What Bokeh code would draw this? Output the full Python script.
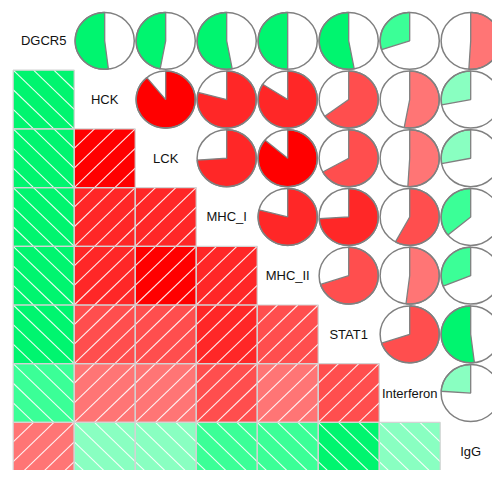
import numpy as np
from bokeh.plotting import figure
from bokeh.models import Range1d
from bokeh.core.properties import value
from bokeh.embed import file_html
from bokeh.resources import INLINE

# ---- data ----
variables = ["DGCR5", "HCK", "LCK", "MHC_I", "MHC_II", "STAT1", "Interferon", "IgG"]

# upper-triangle correlations, row by row (r[i][j] for j > i)
corr_DGCR5 = [-0.52, -0.47, -0.53, -0.50, -0.53, -0.30, 0.51]
corr_HCK = [0.89, 0.79, 0.84, 0.65, 0.53, -0.28]
corr_LCK = [0.74, 0.86, 0.67, 0.51, -0.28]
corr_MHC_I = [0.79, 0.74, 0.58, -0.36]
corr_MHC_II = [0.70, 0.52, -0.31]
corr_STAT1 = [0.70, -0.52]
corr_Interferon = [-0.24]

upper_rows = [corr_DGCR5, corr_HCK, corr_LCK, corr_MHC_I, corr_MHC_II,
              corr_STAT1, corr_Interferon]

n = len(variables)
R = np.eye(n)
for i, row in enumerate(upper_rows):
    for k, v in enumerate(row):
        j = i + 1 + k
        R[i, j] = v
        R[j, i] = v

# ---- palette: 14 colours over [-1, 1] ----
stop_pos = [0.0, 0.25, 0.5, 0.75, 1.0]
stop_rgb = np.array([[0, 128, 0], [0, 255, 120], [255, 255, 255],
                     [255, 127, 127], [255, 0, 0]], float)
ncol = 14
pal = []
for k in range(ncol):
    t = k / (ncol - 1)
    rgb = [np.interp(t, stop_pos, stop_rgb[:, c]) for c in range(3)]
    pal.append("#%02x%02x%02x" % tuple(int(round(v)) for v in rgb))
breaks = np.linspace(-1, 1, ncol + 1)


def color_of(r):
    idx = np.searchsorted(breaks, r, side="left") - 1
    idx = min(max(idx, 0), ncol - 1)
    return pal[idx]


# ---- figure ----
W, H = 492, 470
ux, uy = 61.0, 58.7
x0 = -12.7 / ux
ytop = 8 + 11.0 / uy
p = figure(width=W, height=H, output_backend="svg", toolbar_location=None,
           x_range=Range1d(x0, x0 + W / ux), y_range=Range1d(ytop - H / uy, ytop),
           min_border=0)
p.axis.visible = False
p.grid.visible = False
p.outline_line_color = None
p.background_fill_color = "white"

# lower triangle: shaded squares with hatching
sq_x, sq_y, sq_c = [], [], []
seg_x0, seg_y0, seg_x1, seg_y1 = [], [], [], []
offsets = [-2 / 3, -1 / 3, 0.0, 1 / 3, 2 / 3]
for i in range(n):
    for j in range(i):
        r = R[i, j]
        xl, yb = j, 7 - i
        sq_x.append(xl + 0.5)
        sq_y.append(yb + 0.5)
        sq_c.append(color_of(r))
        for c in offsets:
            if r > 0:  # lines "/" : y = x - c
                if c >= 0:
                    a, b, cc, d = c, 0, 1, 1 - c
                else:
                    a, b, cc, d = 0, -c, 1 + c, 1
            else:  # lines "\" : x + y = 1 + c
                if c >= 0:
                    a, b, cc, d = c, 1, 1, c
                else:
                    a, b, cc, d = 0, 1 + c, 1 + c, 0
            seg_x0.append(xl + a)
            seg_y0.append(yb + b)
            seg_x1.append(xl + cc)
            seg_y1.append(yb + d)

p.rect(x=sq_x, y=sq_y, width=1, height=1, fill_color=sq_c,
       line_color=None)
p.segment(x0=seg_x0, y0=seg_y0, x1=seg_x1, y1=seg_y1, line_color="white",
          line_width=1.1, line_alpha=0.9)
p.rect(x=sq_x, y=sq_y, width=1, height=1, fill_color=None,
       line_color="#d3d3d3", line_width=1.2)

# upper triangle: pies
rad = 0.485
pc_x, pc_y = [], []
wx, wy, wc = [], [], []
for i in range(n):
    for j in range(i + 1, n):
        r = R[i, j]
        cx, cy = j + 0.5, 7.5 - i
        pc_x.append(cx)
        pc_y.append(cy)
        span = abs(r) * 2 * np.pi
        npts = max(int(abs(r) * 120), 4)
        th = np.linspace(0, span, npts)
        sgn = 1 if r > 0 else -1  # positive: clockwise
        xs = [cx] + list(cx + rad * np.sin(sgn * th)) + [cx]
        ys = [cy] + list(cy + rad * np.cos(th)) + [cy]
        wx.append(xs)
        wy.append(ys)
        wc.append(color_of(r))

p.ellipse(x=pc_x, y=pc_y, width=2 * rad, height=2 * rad, fill_color="white",
          line_color=None)
p.patches(xs=wx, ys=wy, fill_color=wc, line_color="#808080", line_width=1.3)
p.ellipse(x=pc_x, y=pc_y, width=2 * rad, height=2 * rad, fill_color=None,
          line_color="#808080", line_width=1.5)

# diagonal labels
p.text(x=[k + 0.5 for k in range(n)], y=[7.5 - k for k in range(n)],
       text=variables, text_align="center", text_baseline="middle",
       text_font=value("Liberation Sans"), text_font_size="13px",
       text_color="#111111")

open("out.html", "w").write(file_html(p, INLINE))
